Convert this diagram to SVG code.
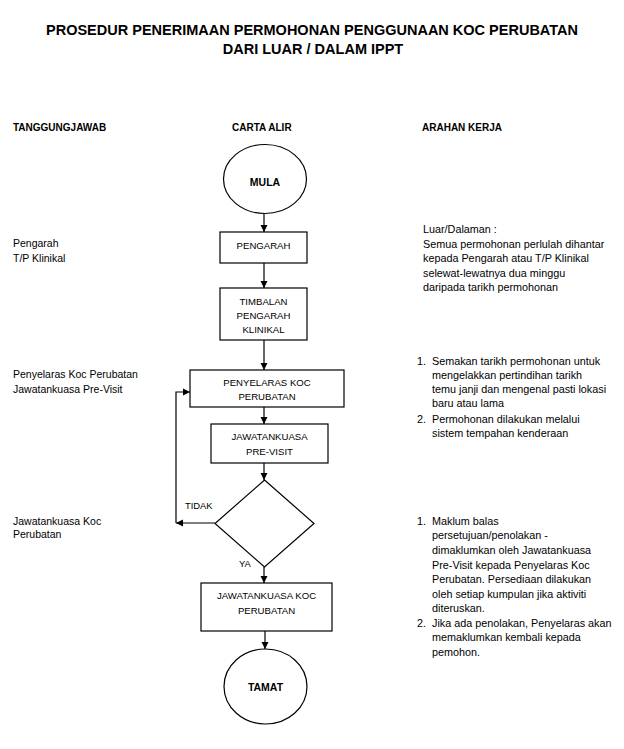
<svg xmlns="http://www.w3.org/2000/svg" width="624" height="749" viewBox="0 0 624 749">
<defs>
<marker id="ah" markerWidth="8" markerHeight="8" refX="7" refY="4" orient="auto" markerUnits="userSpaceOnUse">
<path d="M0,0.5 L7,4 L0,7.5 Z" fill="#000"/>
</marker>
<style>
text{font-family:"Liberation Sans",Arial,sans-serif;fill:#000}
.title{font-size:14.5px;font-weight:bold;text-anchor:middle}
.hd{font-size:10px;font-weight:bold}
.lt{font-size:10.5px}
.rt{font-size:10.8px}
.bx{font-size:9.6px;text-anchor:middle}
.term{font-size:10.5px;font-weight:bold;text-anchor:middle}
.lbl{font-size:9.4px}
.shape{fill:#fff;stroke:#000;stroke-width:1.2}
.conn{fill:none;stroke:#000;stroke-width:1.2}
</style>
</defs>
<rect width="624" height="749" fill="#fff"/>
<text class="title" x="312" y="35">PROSEDUR PENERIMAAN PERMOHONAN PENGGUNAAN KOC PERUBATAN</text>
<text class="title" x="313" y="54">DARI LUAR / DALAM IPPT</text>
<text class="hd" x="13" y="131">TANGGUNGJAWAB</text>
<text class="hd" x="232" y="131">CARTA ALIR</text>
<text class="hd" x="422" y="131">ARAHAN KERJA</text>
<g id="tanggungjawab">
<text class="lt" x="13" y="247">Pengarah</text>
<text class="lt" x="13" y="262">T/P Klinikal</text>
<text class="lt" x="13" y="378">Penyelaras Koc Perubatan</text>
<text class="lt" x="13" y="393">Jawatankuasa Pre-Visit</text>
<text class="lt" x="13" y="525">Jawatankuasa Koc</text>
<text class="lt" x="13" y="538">Perubatan</text>
</g>
<g id="arahan">
<text class="rt" x="423" y="233">Luar/Dalaman :</text>
<text class="rt" x="423" y="248">Semua permohonan perlulah dihantar</text>
<text class="rt" x="423" y="262">kepada Pengarah atau T/P Klinikal</text>
<text class="rt" x="423" y="276.5">selewat-lewatnya dua minggu</text>
<text class="rt" x="423" y="291">daripada tarikh permohonan</text>
<text class="rt" x="417" y="364.5">1.</text>
<text class="rt" x="432" y="364.5">Semakan tarikh permohonan untuk</text>
<text class="rt" x="432" y="379">mengelakkan pertindihan tarikh</text>
<text class="rt" x="432" y="393">temu janji  dan mengenal pasti lokasi</text>
<text class="rt" x="432" y="406.5">baru atau lama</text>
<text class="rt" x="417" y="423">2.</text>
<text class="rt" x="432" y="423">Permohonan dilakukan melalui</text>
<text class="rt" x="432" y="436.5">sistem tempahan kenderaan</text>
<text class="rt" x="417" y="524.5">1.</text>
<text class="rt" x="432" y="524.5">Maklum balas</text>
<text class="rt" x="432" y="539">persetujuan/penolakan -</text>
<text class="rt" x="432" y="554">dimaklumkan oleh Jawatankuasa</text>
<text class="rt" x="432" y="568.5">Pre-Visit kepada Penyelaras Koc</text>
<text class="rt" x="432" y="583">Perubatan. Persediaan dilakukan</text>
<text class="rt" x="432" y="597.5">oleh setiap kumpulan jika aktiviti</text>
<text class="rt" x="432" y="612">diteruskan.</text>
<text class="rt" x="417" y="626.5">2.</text>
<text class="rt" x="432" y="626.5">Jika ada penolakan, Penyelaras akan</text>
<text class="rt" x="432" y="641">memaklumkan kembali kepada</text>
<text class="rt" x="432" y="655.5">pemohon.</text>
</g>
<g id="connectors">
<line class="conn" x1="264" y1="213" x2="264" y2="232" marker-end="url(#ah)"/>
<line class="conn" x1="264" y1="263" x2="264" y2="288" marker-end="url(#ah)"/>
<line class="conn" x1="264" y1="340" x2="264" y2="370" marker-end="url(#ah)"/>
<line class="conn" x1="264" y1="407" x2="264" y2="424" marker-end="url(#ah)"/>
<line class="conn" x1="264" y1="463" x2="264" y2="480" marker-end="url(#ah)"/>
<line class="conn" x1="215" y1="523" x2="176" y2="523" marker-end="url(#ah)"/>
<polyline class="conn" points="176,523 176,392 190,392" marker-end="url(#ah)"/>
<line class="conn" x1="264" y1="567" x2="264" y2="583" marker-end="url(#ah)"/>
<line class="conn" x1="265" y1="631" x2="265" y2="649" marker-end="url(#ah)"/>
<text class="lbl" x="185" y="509">TIDAK</text>
<text class="lbl" x="239" y="566.5">YA</text>
</g>
<g id="mula">
<ellipse class="shape" cx="265" cy="179" rx="41.5" ry="34.5"/>
<text class="term" x="265" y="185.5">MULA</text>
</g>
<g id="pengarah">
<rect class="shape" x="220" y="232" width="87" height="31"/>
<text class="bx" x="263.5" y="248.5">PENGARAH</text>
</g>
<g id="timbalan">
<rect class="shape" x="220" y="288" width="87" height="52"/>
<text class="bx" x="263.5" y="305">TIMBALAN</text>
<text class="bx" x="263.5" y="318.5">PENGARAH</text>
<text class="bx" x="263.5" y="332.5">KLINIKAL</text>
</g>
<g id="penyelaras">
<rect class="shape" x="190" y="370" width="154" height="37"/>
<text class="bx" x="267" y="386">PENYELARAS KOC</text>
<text class="bx" x="267" y="399.5">PERUBATAN</text>
</g>
<g id="previsit">
<rect class="shape" x="211" y="424" width="117" height="39"/>
<text class="bx" x="269.5" y="440">JAWATANKUASA</text>
<text class="bx" x="269.5" y="454.5">PRE-VISIT</text>
</g>
<g id="keputusan">
<polygon class="shape" points="264.5,480 314,523.5 264.5,567 215,523.5"/>
</g>
<g id="jkkp">
<rect class="shape" x="201" y="583" width="131" height="48"/>
<text class="bx" x="266.5" y="598.5">JAWATANKUASA KOC</text>
<text class="bx" x="266.5" y="614">PERUBATAN</text>
</g>
<g id="tamat">
<ellipse class="shape" cx="265.5" cy="686.5" rx="41.5" ry="37.5"/>
<text class="term" x="265.5" y="691">TAMAT</text>
</g>
</svg>
